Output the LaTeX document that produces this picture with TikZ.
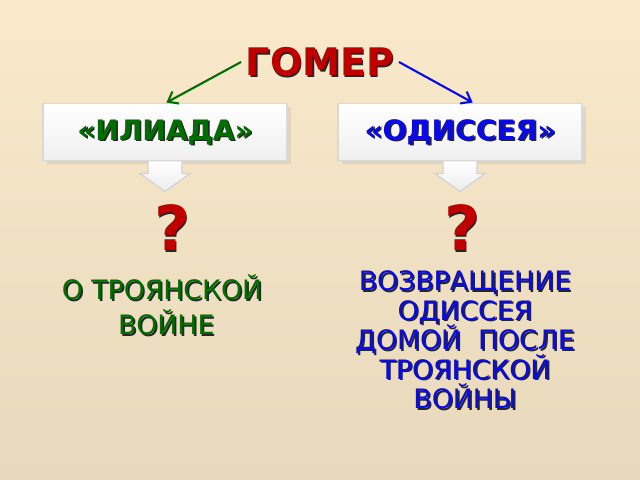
\documentclass[tikz,border=0pt]{standalone}
\usepackage{fontspec}
\setmainfont{DejaVu Sans}
\usetikzlibrary{positioning,arrows.meta,calc,shadows}

\definecolor{homerred}{RGB}{192,0,0}
\definecolor{iliadgreen}{RGB}{0,110,0}
\definecolor{odysblue}{RGB}{10,10,230}
\definecolor{bgtop}{RGB}{250,233,203}
\definecolor{bgbot}{RGB}{232,217,188}

% text with a dark drop shadow: name, position, style, text
\newcommand{\shtext}[4]{%
  \node[#3, text=black!85, xshift=1.2pt, yshift=-1.2pt] (#1s) at #2 {#4};
  \node[#3] (#1) at #2 {#4};}

\begin{document}
\begin{tikzpicture}[x=0.025cm, y=-0.025cm,
    title/.style={font=\bfseries\fontsize{27}{30}\selectfont, text=homerred},
    work/.style={font=\bfseries\fontsize{20}{22}\selectfont},
    workbox/.style={draw=gray!30, line width=1.2pt, top color=white, bottom color=gray!12,
      minimum width=6.1cm, minimum height=1.43cm, drop shadow={opacity=0.15}},
    blockarrow/.style={draw=gray!35, line width=0.8pt, top color=white, bottom color=gray!15},
    quest/.style={font=\bfseries\fontsize{44}{46}\selectfont, text=homerred},
    about/.style={font=\fontsize{19}{21}\selectfont, align=center}]

    % background
    \shade[top color=bgtop, bottom color=bgbot] (0,0) rectangle (640,480);

    % boxes
    \node[workbox] (ilibox) at (165,132) {};
    \node[workbox] (odybox) at (460,132) {};
    \foreach \b in {ilibox, odybox} {
        \draw[blockarrow] ($(\b.south)+(-17,0)$) -- ++(0,12) -- ++(-8,0) -- ++(25,18)
            -- ++(25,-18) -- ++(-8,0) -- ++(0,-12);
    }

    % titles
    \shtext{homer}{(320,62)}{title}{ГОМЕР}
    \shtext{ili}{(ilibox.center)}{work, text=iliadgreen}{«ИЛИАДА»}
    \shtext{ody}{(odybox.center)}{work, text=odysblue}{«ОДИССЕЯ»}

    % connectors
    \draw[-{Straight Barb[length=2.2mm,width=3.4mm]}, iliadgreen, line width=1.5pt]
        (homer.west) -- ([xshift=1pt]ilibox.north);
    \draw[-{Straight Barb[length=2.2mm,width=3.4mm]}, odysblue, line width=1.5pt]
        (homer.east) -- ([xshift=9pt]odybox.north);

    % question marks
    \shtext{q1}{(172,228)}{quest}{?}
    \shtext{q2}{(462,228)}{quest}{?}

    % answers
    \shtext{iliabout}{(162,305)}{about, font=\fontsize{19}{25}\selectfont, text=iliadgreen}{О ТРОЯНСКОЙ\\ \ ВОЙНЕ}
    \shtext{odyabout}{(465,340)}{about, text=odysblue}{ВОЗВРАЩЕНИЕ\\ОДИССЕЯ\\ДОМОЙ \ ПОСЛЕ\\ТРОЯНСКОЙ\\ВОЙНЫ}
\end{tikzpicture}
\end{document}
